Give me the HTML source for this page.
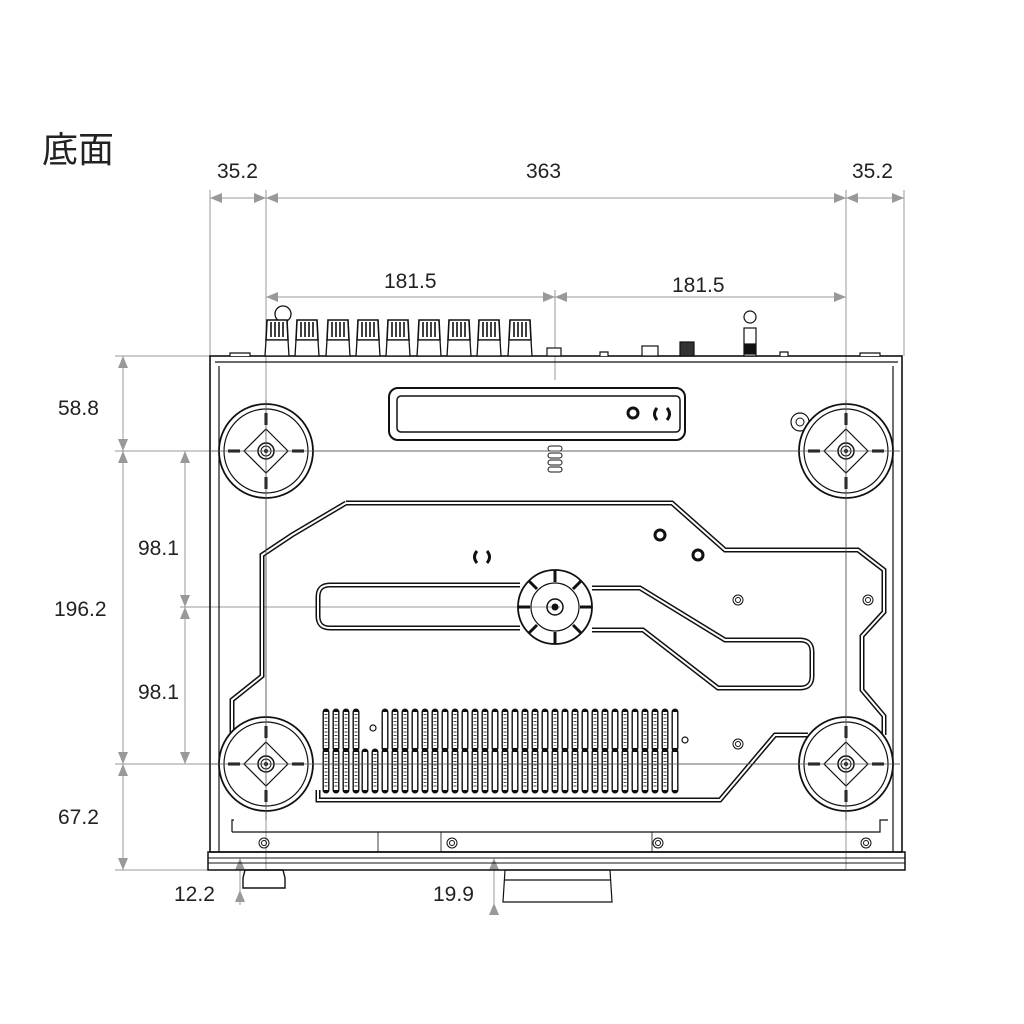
<!DOCTYPE html>
<html><head><meta charset="utf-8"><style>
html,body{margin:0;padding:0;background:#fff;width:1024px;height:1024px;overflow:hidden}
svg{display:block}
text{font-family:"Liberation Sans","Noto Sans CJK JP",sans-serif;fill:#222}
</style></head><body>
<svg width="1024" height="1024" viewBox="0 0 1024 1024" xmlns="http://www.w3.org/2000/svg">
<defs>
<g id="foot">
<circle r="47" fill="none" stroke="#111" stroke-width="1.8"/>
<circle r="42" fill="none" stroke="#111" stroke-width="1.2"/>
<path d="M0,-22 L22,0 L0,22 L-22,0 Z" fill="none" stroke="#111" stroke-width="1.2"/>
<circle r="8" fill="none" stroke="#111" stroke-width="1.5"/>
<circle r="5" fill="none" stroke="#111" stroke-width="1"/>
<circle r="2" fill="#111"/>
<path d="M0,-38 V-26 M0,26 V38 M-38,0 H-26 M26,0 H38" stroke="#111" stroke-width="3"/>
</g>
<g id="knob">
<path d="M-11,-12 L-10,-32 L10,-32 L11,-12 Z" fill="#fff" stroke="#111" stroke-width="1.6"/>
<path d="M-6,-30 V-15 M-2,-30 V-15 M2,-30 V-15 M6,-30 V-15" stroke="#111" stroke-width="1.6"/>
<path d="M-11,-12 L-12,4 L12,4 L11,-12 Z" fill="#fff" stroke="#111" stroke-width="1.3"/>
</g>
<g id="scr"><circle r="5" fill="none" stroke="#111" stroke-width="1"/><circle r="2.5" fill="none" stroke="#111" stroke-width="1"/></g>
</defs>

<text x="42" y="162" font-size="36">底面</text>

<g stroke="#999" stroke-width="1" fill="none">
<path d="M210,190 V356 M904,190 V356 M266,190 V870 M846,190 V870 M555,290 V380"/>
<path d="M115,356 H215 M115,451 H900 M180,607 H560 M115,764 H900 M115,870 H210"/>
<path d="M210,198 H904 M266,297 H846 M123,356 V870 M185,451 V764"/>
<path d="M240,860 V905 M494,860 V915"/>
</g>
<g fill="#999">
<path d="M210,198 l12,-5 v10z M266,198 l-12,-5 v10z M266,198 l12,-5 v10z M846,198 l-12,-5 v10z M846,198 l12,-5 v10z M904,198 l-12,-5 v10z"/>
<path d="M266,297 l12,-5 v10z M555,297 l-12,-5 v10z M555,297 l12,-5 v10z M846,297 l-12,-5 v10z"/>
<path d="M123,356 l-5,12 h10z M123,451 l-5,-12 h10z M123,451 l-5,12 h10z M123,764 l-5,-12 h10z M123,764 l-5,12 h10z M123,870 l-5,-12 h10z"/>
<path d="M185,451 l-5,12 h10z M185,607 l-5,-12 h10z M185,607 l-5,12 h10z M185,764 l-5,-12 h10z"/>
<path d="M240,858 l-5,12 h10z M240,890 l-5,12 h10z M494,858 l-5,12 h10z M494,903 l-5,12 h10z"/>
</g>
<g font-size="21">
<text x="217" y="178">35.2</text><text x="526" y="178">363</text><text x="852" y="178">35.2</text>
<text x="384" y="288">181.5</text><text x="672" y="292">181.5</text>
<text x="58" y="415">58.8</text><text x="54" y="616">196.2</text><text x="58" y="824">67.2</text>
<text x="138" y="555">98.1</text><text x="138" y="699">98.1</text>
<text x="174" y="901">12.2</text><text x="433" y="901">19.9</text>
</g>

<g fill="none" stroke="#111">
<rect x="210" y="356" width="692" height="496" stroke-width="1.6"/>
<path d="M219,366 V852 M893,366 V852 M215,362 H898" stroke-width="1.2"/>
<path d="M232,832 V820 H234 M232,832 H880 V820 H888" stroke-width="1.2"/>
<rect x="208" y="852" width="697" height="18" stroke-width="1.5"/>
<path d="M208,858 H905 M208,863 H905" stroke-width="1"/>
<path d="M378,832 V852 M441,832 V852 M652,832 V852" stroke-width="0.8"/>
<path d="M245,870 h38 l2,8 v10 h-42 v-10 z" stroke-width="1.4"/>
<path d="M505,870 h105 l2,32 h-109 z M505,880 h105" stroke-width="1.2"/>
<rect x="389" y="388" width="296" height="52" rx="9" stroke-width="2"/>
<rect x="397" y="396" width="283" height="36" rx="4" stroke-width="1.5"/>
<rect x="548" y="446" width="14" height="5" rx="2.5" stroke-width="1"/><rect x="548" y="453" width="14" height="5" rx="2.5" stroke-width="1"/><rect x="548" y="460" width="14" height="5" rx="2.5" stroke-width="1"/><rect x="548" y="467" width="14" height="5" rx="2.5" stroke-width="1"/>
<path d="M346,503 H672 L725,550 H858 L884,570 V612 L862,636 V690 L884,716 V735 M232,745 V700 L262,676 V555 L292,535 L346,503" stroke-width="5"/>
<path d="M346,503 H672 L725,550 H858 L884,570 V612 L862,636 V690 L884,716 V735 M232,745 V700 L262,676 V555 L292,535 L346,503" stroke="#fff" stroke-width="2"/>
<path d="M318,790 V800 H720 L775,735 H808" stroke-width="5"/>
<path d="M318,790 V800 H720 L775,735 H808" stroke="#fff" stroke-width="2"/>
<path d="M330,585 H520 M592,588 H640 L725,640 H800 Q812,640 812,652 V676 Q812,688 800,688 H718 L643,630 H592 M520,628 H330 Q318,628 318,616 V597 Q318,585 330,585" stroke-width="5"/>
<path d="M330,585 H520 M592,588 H640 L725,640 H800 Q812,640 812,652 V676 Q812,688 800,688 H718 L643,630 H592 M520,628 H330 Q318,628 318,616 V597 Q318,585 330,585" stroke="#fff" stroke-width="2"/>
<circle cx="555" cy="607" r="37" stroke-width="1.8"/>
<circle cx="555" cy="607" r="24" stroke-width="1.2"/>
<circle cx="555" cy="607" r="8" stroke-width="1.5"/><circle cx="555" cy="607" r="3" fill="#111"/>
<path d="M555,570 v12 M555,632 v12 M518,607 h12 M580,607 h12 M529,581 l8,8 M581,581 l-8,8 M529,633 l8,-8 M581,633 l-8,-8" stroke-width="3"/>
<circle cx="800" cy="422" r="9" stroke-width="1.2"/><circle cx="800" cy="422" r="4" stroke-width="1"/>
</g>
<g fill="none" stroke="#111" stroke-width="3">
<circle cx="633" cy="413" r="5"/><path d="M657,408 q-5,6 0,12 M667,408 q5,6 0,12"/>
<circle cx="660" cy="535" r="5"/><circle cx="698" cy="555" r="5"/>
<path d="M477,551 q-5,6 0,12 M487,551 q5,6 0,12"/>
</g>
<g fill="none" stroke="#111" stroke-width="1.2">
<use href="#scr" x="738" y="600"/><use href="#scr" x="868" y="600"/><use href="#scr" x="738" y="744"/>
<use href="#scr" x="264" y="843"/><use href="#scr" x="452" y="843"/><use href="#scr" x="658" y="843"/><use href="#scr" x="866" y="843"/>
<circle cx="685" cy="740" r="3"/><circle cx="373" cy="728" r="3"/>
</g>
<g fill="none" stroke="#111" stroke-linecap="round">
<path stroke-width="7" d="M326,712 V748 M336,712 V748 M346,712 V748 M356,712 V748 M385,712 V748 M395,712 V748 M405,712 V748 M415,712 V748 M425,712 V748 M435,712 V748 M445,712 V748 M455,712 V748 M465,712 V748 M475,712 V748 M485,712 V748 M495,712 V748 M505,712 V748 M515,712 V748 M525,712 V748 M535,712 V748 M545,712 V748 M555,712 V748 M565,712 V748 M575,712 V748 M585,712 V748 M595,712 V748 M605,712 V748 M615,712 V748 M625,712 V748 M635,712 V748 M645,712 V748 M655,712 V748 M665,712 V748 M675,712 V748"/>
<path stroke-width="7" d="M326,752 V790 M336,752 V790 M346,752 V790 M356,752 V790 M365,752 V790 M375,752 V790 M385,752 V790 M395,752 V790 M405,752 V790 M415,752 V790 M425,752 V790 M435,752 V790 M445,752 V790 M455,752 V790 M465,752 V790 M475,752 V790 M485,752 V790 M495,752 V790 M505,752 V790 M515,752 V790 M525,752 V790 M535,752 V790 M545,752 V790 M555,752 V790 M565,752 V790 M575,752 V790 M585,752 V790 M595,752 V790 M605,752 V790 M615,752 V790 M625,752 V790 M635,752 V790 M645,752 V790 M655,752 V790 M665,752 V790 M675,752 V790"/>
</g>
<g stroke="#fff" stroke-width="4.2">
<path d="M326,712 V748 M336,712 V748 M346,712 V748 M356,712 V748 M385,712 V748 M395,712 V748 M405,712 V748 M415,712 V748 M425,712 V748 M435,712 V748 M445,712 V748 M455,712 V748 M465,712 V748 M475,712 V748 M485,712 V748 M495,712 V748 M505,712 V748 M515,712 V748 M525,712 V748 M535,712 V748 M545,712 V748 M555,712 V748 M565,712 V748 M575,712 V748 M585,712 V748 M595,712 V748 M605,712 V748 M615,712 V748 M625,712 V748 M635,712 V748 M645,712 V748 M655,712 V748 M665,712 V748 M675,712 V748"/>
<path d="M326,752 V790 M336,752 V790 M346,752 V790 M356,752 V790 M365,752 V790 M375,752 V790 M385,752 V790 M395,752 V790 M405,752 V790 M415,752 V790 M425,752 V790 M435,752 V790 M445,752 V790 M455,752 V790 M465,752 V790 M475,752 V790 M485,752 V790 M495,752 V790 M505,752 V790 M515,752 V790 M525,752 V790 M535,752 V790 M545,752 V790 M555,752 V790 M565,752 V790 M575,752 V790 M585,752 V790 M595,752 V790 M605,752 V790 M615,752 V790 M625,752 V790 M635,752 V790 M645,752 V790 M655,752 V790 M665,752 V790 M675,752 V790"/>
</g>
<g stroke="#444" stroke-width="3" stroke-dasharray="1 2.5">
<path d="M326,714 V746 M336,714 V746 M346,714 V746 M356,714 V746 M395,714 V746 M405,714 V746 M425,714 V746 M435,714 V746 M455,714 V746 M475,714 V746 M485,714 V746 M505,714 V746 M525,714 V746 M535,714 V746 M555,714 V746 M575,714 V746 M595,714 V746 M605,714 V746 M625,714 V746 M645,714 V746 M655,714 V746 M665,714 V746"/>
<path d="M326,754 V788 M336,754 V788 M346,754 V788 M356,754 V788 M375,754 V788 M395,754 V788 M405,754 V788 M425,754 V788 M435,754 V788 M455,754 V788 M475,754 V788 M485,754 V788 M505,754 V788 M525,754 V788 M535,754 V788 M555,754 V788 M575,754 V788 M595,754 V788 M605,754 V788 M625,754 V788 M645,754 V788 M655,754 V788 M665,754 V788"/>
</g>

<g fill="#fff"><circle cx="266" cy="451" r="47"/><circle cx="846" cy="451" r="47"/><circle cx="266" cy="764" r="47"/><circle cx="846" cy="764" r="47"/></g>
<use href="#foot" x="266" y="451"/><use href="#foot" x="846" y="451"/><use href="#foot" x="266" y="764"/><use href="#foot" x="846" y="764"/>
<g stroke="#555" stroke-width="0.8"><path d="M210,451 H900 M210,764 H900 M266,400 V820 M846,400 V820"/></g>

<circle cx="283" cy="314" r="8" fill="#fff" stroke="#111" stroke-width="1.3"/>
<use href="#knob" x="277" y="352"/><use href="#knob" x="307" y="352"/><use href="#knob" x="338" y="352"/><use href="#knob" x="368" y="352"/><use href="#knob" x="398" y="352"/><use href="#knob" x="429" y="352"/><use href="#knob" x="459" y="352"/><use href="#knob" x="489" y="352"/><use href="#knob" x="520" y="352"/>
<g fill="#fff" stroke="#111" stroke-width="1.2">
<rect x="547" y="348" width="14" height="8"/>
<rect x="642" y="346" width="16" height="10"/>
<rect x="680" y="342" width="14" height="14" fill="#333"/>
<rect x="744" y="328" width="12" height="28"/>
<circle cx="750" cy="317" r="6"/>
<rect x="745" y="344" width="10" height="10" fill="#111"/>
<path d="M600,356 v-4 h8 v4 M780,356 v-4 h8 v4 M230,356 v-3 h20 v3 M860,356 v-3 h20 v3"/>
</g>
</svg>
</body></html>
